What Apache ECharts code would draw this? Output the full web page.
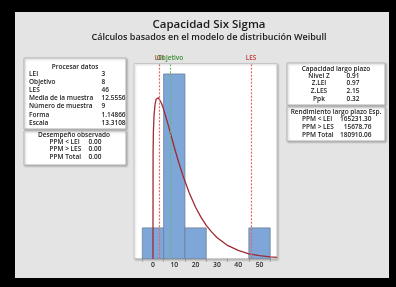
<!DOCTYPE html>
<html>
<head>
<meta charset="utf-8">
<script src="https://cdn.jsdelivr.net/npm/echarts@6/dist/echarts.min.js"></script>
<style>
  html, body { margin: 0; padding: 0; background: #000; }
  #chart { width: 396px; height: 287px; }
</style>
</head>
<body>
<div id="chart"></div>
<script>
// histogram (bin start, count), bin width 10
const binStarts = [-5, 5, 15, 25, 35, 45];
const binCounts = [1, 6, 1, 0, 0, 1];
const binWidth = 10;

// fitted weibull curve (scaled to counts)
const curveX = [0, 0.05, 0.2, 0.5, 1, 1.5, 2, 2.5, 3, 4, 5, 6, 7, 8, 10, 12, 14, 17, 20, 22.5, 25, 27.5, 30, 35, 40, 45, 50, 55, 58.2];
const curveY = [0, 3.38, 4.13, 4.66, 5.02, 5.18, 5.23, 5.23, 5.2, 5.05, 4.85, 4.62, 4.38, 4.13, 3.62, 3.15, 2.71, 2.14, 1.67, 1.35, 1.08, 0.87, 0.69, 0.43, 0.27, 0.16, 0.1, 0.06, 0.04];

// spec lines
const specNames = ["LEI", "Objetivo", "LES"];
const specValues = [3, 8, 46];

const xLabels = [0, 10, 20, 30, 40, 50];
const xTicks = [-5, 5, 15, 25, 35, 45, 55];

// tables
const procLabels = ["LEI", "Objetivo", "LES", "Media de la muestra", "Número de muestra", "Forma", "Escala"];
const procValues = ["3", "8", "46", "12.5556", "9", "1.14866", "13.3108"];
const obsLabels = ["PPM < LEI", "PPM > LES", "PPM Total"];
const obsValues = ["0.00", "0.00", "0.00"];
const capLabels = ["Nivel Z", "Z.LEI", "Z.LES", "Ppk"];
const capValues = ["0.91", "0.97", "2.15", "0.32"];
const expLabels = ["PPM < LEI", "PPM > LES", "PPM Total"];
const expValues = ["165231.30", "15678.76", "180910.06"];

const FONT = '"Open Sans", "Noto Sans", sans-serif';
const txtColor = "#1a1a1a";

function box(x, y, w, h) {
  return {
    type: "rect",
    shape: { x: x, y: y, width: w, height: h },
    style: {
      fill: "#fff",
      stroke: "#b5b5b5",
      lineWidth: 1,
      shadowBlur: 2,
      shadowColor: "rgba(0,0,0,0.25)",
      shadowOffsetX: 1,
      shadowOffsetY: 1
    },
    z: 1
  };
}
function txt(s, x, y, align) {
  return {
    type: "text",
    style: {
      text: s,
      x: x,
      y: y,
      fill: txtColor,
      align: align || "left",
      verticalAlign: "middle",
      font: "600 6.5px " + FONT
    },
    z: 2
  };
}

const graphics = [];
// grey page
graphics.push({
  type: "rect",
  shape: { x: 15, y: 12, width: 374, height: 266 },
  style: { fill: "#e4e4e4" },
  z: -10
});
// left tables
graphics.push(box(24, 58, 102, 71));
graphics.push(txt("Procesar datos", 75, 67.5, "center"));
procLabels.forEach((l, i) => {
  graphics.push(txt(l, 29, 74.2 + i * 8.1));
  graphics.push(txt(procValues[i], 101.5, 74.2 + i * 8.1));
});
graphics.push(box(24, 131, 102, 34));
graphics.push(txt("Desempeño observado", 74, 135, "center"));
obsLabels.forEach((l, i) => {
  graphics.push(txt(l, 49.5, 142 + i * 7.6));
  graphics.push(txt(obsValues[i], 88.5, 142 + i * 7.6));
});
// right tables
graphics.push(box(287, 63, 98, 42));
graphics.push(txt("Capacidad largo plazo", 336, 69, "center"));
capLabels.forEach((l, i) => {
  graphics.push(txt(l, 319, 76 + i * 7.6, "center"));
  graphics.push(txt(capValues[i], 346.5, 76 + i * 7.6));
});
graphics.push(box(287, 107, 98, 34));
graphics.push(txt("Rendimiento largo plazo Esp.", 336, 112.5, "center"));
expLabels.forEach((l, i) => {
  graphics.push(txt(l, 302, 119.5 + i * 7.7));
  graphics.push(txt(expValues[i], 371.5, 119.5 + i * 7.7, "right"));
});

const chart = echarts.init(document.getElementById("chart"), null, { renderer: "canvas" });

const specColors = ["#e6656d", "#6cb868", "#e6656d"];
const specLabelColors = ["#c0393c", "#3a8d36", "#c0393c"];

const specSeries = specValues.map((v, i) => ({
  type: "line",
  data: [],
  z: 1,
  markLine: {
    silent: true,
    symbol: "none",
    animation: false,
    lineStyle: { color: specColors[i], type: [2, 1.5], width: 1.2 },
    label: {
      show: true,
      position: "end",
      formatter: specNames[i],
      color: specLabelColors[i],
      fontFamily: FONT,
      fontSize: 6.5,
      fontWeight: 600,
      distance: 2
    },
    data: [{ xAxis: v }]
  }
}));

chart.setOption({
  backgroundColor: "#000",
  animation: false,
  title: [
    {
      text: "Capacidad Six Sigma",
      left: 204,
      top: 14,
      textAlign: "center",
      textStyle: { fontFamily: FONT, fontSize: 11.5, fontWeight: 600, color: "#1a1a1a" }
    },
    {
      text: "Cálculos basados en el modelo de distribución Weibull",
      left: 204,
      top: 28,
      textAlign: "center",
      textStyle: { fontFamily: FONT, fontSize: 9, fontWeight: 600, color: "#1a1a1a" }
    }
  ],
  graphic: graphics,
  grid: {
    left: 134,
    top: 63.5,
    width: 143,
    height: 195.2,
    show: true,
    backgroundColor: "#fff",
    borderColor: "#c6c6c6",
    borderWidth: 1,
    shadowBlur: 2,
    shadowColor: "rgba(0,0,0,0.2)",
    shadowOffsetX: 1,
    shadowOffsetY: 1
  },
  xAxis: {
    type: "value",
    min: -8.9,
    max: 58.2,
    axisLine: { show: false },
    splitLine: { show: false },
    axisTick: {
      show: true,
      customValues: xTicks,
      length: 3,
      lineStyle: { color: "#999" }
    },
    axisLabel: {
      customValues: xLabels,
      fontFamily: FONT,
      fontSize: 6.8,
      fontWeight: 600,
      color: "#2a2a2a",
      margin: 3
    }
  },
  yAxis: {
    type: "value",
    min: 0,
    max: 6.34,
    show: false
  },
  series: specSeries.concat([
    {
      type: "custom",
      z: 2,
      data: binStarts.map((b, i) => [b, b + binWidth, binCounts[i]]),
      renderItem: function (params, api) {
        const h = api.value(2);
        if (!h) return;
        const p0 = api.coord([api.value(0), h]);
        const p1 = api.coord([api.value(1), 0]);
        return {
          type: "rect",
          shape: { x: p0[0], y: p0[1], width: p1[0] - p0[0], height: p1[1] - p0[1] },
          style: { fill: "#7ea6d8", stroke: "#6d7f96", lineWidth: 0.8 }
        };
      }
    },
    {
      type: "line",
      z: 3,
      data: curveX.map((x, i) => [x, curveY[i]]),
      showSymbol: false,
      smooth: false,
      lineStyle: { color: "#9e2a33", width: 1.3 }
    }
  ])
});
</script>
</body>
</html>
